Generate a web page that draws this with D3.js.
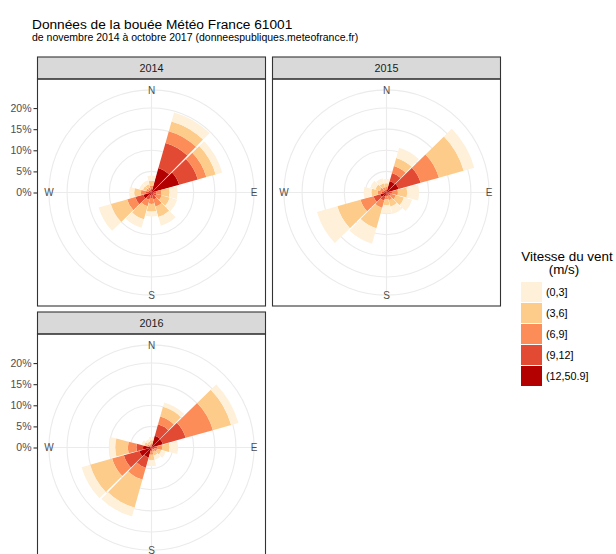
<!DOCTYPE html>
<html>
<head>
<meta charset="utf-8">
<script src="https://cdn.jsdelivr.net/npm/d3@7"></script>
<style>
  body { margin: 0; background: #fff; }
  svg { display: block; font-family: "Liberation Sans", Arial, sans-serif; }
</style>
</head>
<body>
<div id="chart"></div>
<script>
const years = ["2014", "2015", "2016"];
const directions = [0, 30, 60, 90, 120, 150, 180, 210, 240, 270, 300, 330];
const speedClasses = ["(0,3]", "(3,6]", "(6,9]", "(9,12]", "(12,50.9]"];
const speedColors = ["#FEF0D9", "#FDCC8A", "#FC8D59", "#E34A33", "#B30000"];

// % des observations, une ligne par direction, colonnes dans l'ordre de speedClasses
const freq2014 = [
  [1.2, 1.2, 0.8, 0.5, 0.3],
  [2.2, 2.4, 2.9, 6.2, 6.0],
  [1.6, 2.3, 2.1, 4.6, 6.8],
  [1.9, 2.0, 1.2, 0.7, 0.4],
  [1.8, 2.0, 1.3, 0.8, 0.4],
  [2.2, 2.5, 1.8, 1.1, 0.6],
  [1.2, 1.8, 1.4, 0.8, 0.5],
  [2.1, 3.2, 1.6, 1.1, 0.7],
  [3.0, 4.0, 2.0, 2.0, 2.0],
  [1.2, 1.6, 1.2, 0.8, 0.5],
  [0.9, 0.8, 0.6, 0.4, 0.3],
  [1.0, 0.8, 0.6, 0.4, 0.2]
];
const freq2015 = [
  [1.0, 0.9, 0.6, 0.4, 0.3],
  [2.5, 2.0, 1.7, 2.0, 2.8],
  [2.6, 6.1, 4.5, 5.4, 3.0],
  [2.8, 2.2, 1.4, 0.8, 0.5],
  [2.0, 2.0, 1.2, 0.7, 0.4],
  [1.8, 1.6, 1.0, 0.6, 0.3],
  [1.9, 1.4, 0.8, 0.5, 0.3],
  [3.8, 5.0, 1.8, 1.0, 1.0],
  [5.0, 5.7, 3.2, 1.7, 1.5],
  [1.8, 1.5, 1.0, 0.7, 0.4],
  [1.3, 1.1, 0.8, 0.5, 0.3],
  [1.2, 1.0, 0.7, 0.4, 0.2]
];
const freq2016 = [
  [0.8, 0.7, 0.5, 0.3, 0.2],
  [1.1, 2.4, 1.9, 2.8, 2.9],
  [1.8, 4.5, 6.7, 5.6, 2.8],
  [2.0, 1.8, 1.2, 0.8, 0.5],
  [1.1, 1.0, 0.7, 0.4, 0.3],
  [1.0, 0.9, 0.6, 0.3, 0.2],
  [1.4, 1.3, 0.9, 0.5, 0.3],
  [2.2, 6.9, 2.9, 2.5, 2.5],
  [2.1, 5.4, 2.9, 3.8, 3.0],
  [1.4, 3.0, 2.0, 1.6, 2.0],
  [0.7, 0.7, 0.5, 0.4, 0.2],
  [0.6, 0.6, 0.4, 0.2, 0.2]
];
const freqByYear = [freq2014, freq2015, freq2016];

const radialTicks = [0, 5, 10, 15, 20];
const compassAngles = [0, 90, 180, 270];
const compassLabels = ["N", "E", "S", "W"];

const width = 616, height = 554;
const panelW = 228, panelH = 227, stripH = 22;
const panelPos = [[37.5, 57], [272.5, 57], [37.5, 312]];
const barWidth = 0.95 * 30;

const svg = d3.select("#chart").append("svg")
  .attr("width", width)
  .attr("height", height);

// titre
svg.append("text")
  .attr("x", 32).attr("y", 29)
  .attr("font-size", "13.7px")
  .attr("fill", "#000")
  .text("Données de la bouée Météo France 61001");
svg.append("text")
  .attr("x", 32).attr("y", 41)
  .attr("font-size", "10.5px")
  .attr("fill", "#000")
  .text("de novembre 2014 à octobre 2017 (donneespubliques.meteofrance.fr)");

// lignes de données
const tables = freqByYear.map(f => directions.map((dir, i) => {
  const row = { dir };
  speedClasses.forEach((c, j) => { row[c] = f[i][j]; });
  return row;
}));

// les classes rapides au centre, les lentes à l'extérieur
const stack = d3.stack().keys(speedClasses.slice().reverse());
const color = d3.scaleOrdinal().domain(speedClasses).range(speedColors);

const rMax = d3.max(freqByYear.flat(), d => d3.sum(d));
const r = d3.scaleLinear().domain([0, rMax]).range([0, 0.4 * panelW]);
const theta = d3.scaleLinear().domain([0, 360]).range([0, 2 * Math.PI]);
const outerR = 0.45 * panelW;

const arc = d3.arc()
  .innerRadius(d => r(d[0]))
  .outerRadius(d => r(d[1]))
  .startAngle(d => theta(d.data.dir - barWidth / 2))
  .endAngle(d => theta(d.data.dir + barWidth / 2));

years.forEach((year, k) => {
  const [px, py] = panelPos[k];
  const g = svg.append("g").attr("transform", `translate(${px},${py})`);

  // bandeau
  g.append("rect")
    .attr("width", panelW).attr("height", stripH)
    .attr("fill", "#D9D9D9")
    .attr("stroke", "#333").attr("stroke-width", 1.1);
  g.append("text")
    .attr("x", panelW / 2).attr("y", stripH / 2 + 3.8)
    .attr("text-anchor", "middle")
    .attr("font-size", "10.8px")
    .attr("fill", "#1A1A1A")
    .text(year);

  const cx = panelW / 2, cy = stripH + panelH / 2;
  const polar = g.append("g").attr("transform", `translate(${cx},${cy})`);

  // grille
  polar.selectAll(".spoke")
    .data(compassAngles)
    .enter().append("line")
    .attr("x1", 0).attr("y1", 0)
    .attr("x2", d => outerR * Math.sin(theta(d)))
    .attr("y2", d => -outerR * Math.cos(theta(d)))
    .attr("stroke", "#EBEBEB").attr("stroke-width", 1.1);
  polar.selectAll(".ring")
    .data(radialTicks.filter(t => t > 0).map(t => r(t)).concat([outerR]))
    .enter().append("circle")
    .attr("r", d => d)
    .attr("fill", "none")
    .attr("stroke", "#EBEBEB").attr("stroke-width", 1.1);

  // barres empilées
  const series = stack(tables[k]);
  polar.selectAll(".layer")
    .data(series)
    .enter().append("g")
    .attr("fill", d => color(d.key))
    .selectAll("path")
    .data(d => d)
    .enter().append("path")
    .attr("d", arc);

  // étiquettes N E S W
  polar.selectAll(".compass")
    .data(compassAngles)
    .enter().append("text")
    .attr("x", d => outerR * Math.sin(theta(d)))
    .attr("y", d => -outerR * Math.cos(theta(d)) + 3.6)
    .attr("text-anchor", "middle")
    .attr("font-size", "10px")
    .attr("fill", "#4D4D4D")
    .text((d, i) => compassLabels[i]);

  // cadre du panneau
  g.append("rect")
    .attr("y", stripH)
    .attr("width", panelW).attr("height", panelH)
    .attr("fill", "none")
    .attr("stroke", "#333").attr("stroke-width", 1.1);

  // axe radial à gauche pour la première colonne
  if (k !== 1) {
    const y = d3.scaleLinear().domain([0, rMax]).range([cy, cy - r(rMax)]);
    const axis = g.append("g")
      .call(d3.axisLeft(y).tickValues(radialTicks).tickFormat(d => d + "%")
        .tickSize(4).tickSizeOuter(0).tickPadding(2));
    axis.select(".domain").remove();
    axis.selectAll("line").attr("stroke", "#333").attr("stroke-width", 1.1);
    axis.selectAll("text")
      .attr("font-family", "Liberation Sans, Arial, sans-serif")
      .attr("font-size", "10.5px")
      .attr("fill", "#4D4D4D");
  }
});

// légende
const legend = svg.append("g").attr("transform", "translate(521,0)");
legend.append("text")
  .attr("x", 46).attr("y", 260.5)
  .attr("text-anchor", "middle")
  .attr("font-size", "13.4px")
  .attr("fill", "#000")
  .text("Vitesse du vent");
legend.append("text")
  .attr("x", 43).attr("y", 274)
  .attr("text-anchor", "middle")
  .attr("font-size", "13.4px")
  .attr("fill", "#000")
  .text("(m/s)");

const keys = legend.selectAll(".key")
  .data(speedClasses)
  .enter().append("g")
  .attr("transform", (d, i) => `translate(0,${282 + i * 21})`);
keys.append("rect")
  .attr("width", 21).attr("height", 20)
  .attr("fill", d => color(d));
keys.append("text")
  .attr("x", 25).attr("y", 10 + 3.8)
  .attr("font-size", "10.8px")
  .attr("fill", "#000")
  .text(d => d);
</script>
</body>
</html>
